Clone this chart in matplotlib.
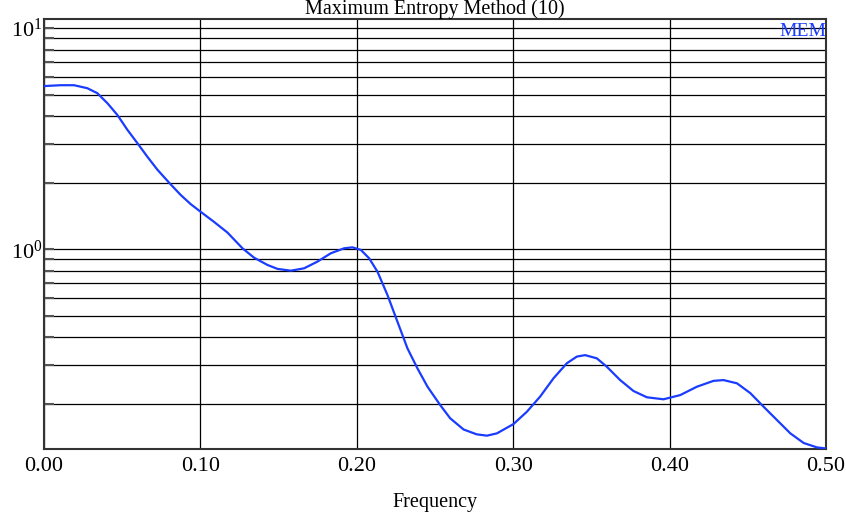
import numpy as np
import matplotlib
matplotlib.use("Agg")
import matplotlib.pyplot as plt
from matplotlib.ticker import LogLocator, FixedLocator, NullFormatter

# MEM spectrum (order 10), read along the frequency axis
freq = [0.000, 0.0021, 0.0107, 0.0192, 0.0277, 0.0341, 0.0405, 0.0469, 0.0533, 0.0597,
        0.0661, 0.0725, 0.080, 0.0874, 0.0938, 0.100, 0.1087, 0.1173, 0.1269, 0.1343,
        0.1429, 0.1493, 0.1578, 0.1663, 0.1748, 0.1834, 0.1919, 0.1972, 0.2026, 0.2079,
        0.2132, 0.2196, 0.226, 0.2324, 0.2388, 0.2452, 0.2533, 0.2597, 0.2683, 0.2767,
        0.2832, 0.2896, 0.3002, 0.3087, 0.3172, 0.3258, 0.3343, 0.3407, 0.346, 0.3535,
        0.3599, 0.3684, 0.3769, 0.3855, 0.3961, 0.4068, 0.4175, 0.4281, 0.4345, 0.4431,
        0.4516, 0.4601, 0.4686, 0.4772, 0.4857, 0.4942, 0.500]
power = [5.47, 5.48, 5.52, 5.52, 5.35, 5.08, 4.58, 4.05, 3.47, 3.02,
         2.62, 2.29, 2.00, 1.76, 1.60, 1.48, 1.33, 1.19, 1.01, 0.916,
         0.849, 0.815, 0.800, 0.820, 0.879, 0.959, 1.01, 1.02, 0.993, 0.91,
         0.792, 0.621, 0.470, 0.356, 0.289, 0.239, 0.1975, 0.172, 0.153, 0.1455,
         0.1435, 0.147, 0.162, 0.184, 0.2155, 0.261, 0.305, 0.327, 0.332, 0.321,
         0.294, 0.256, 0.2285, 0.214, 0.2096, 0.219, 0.239, 0.254, 0.256, 0.2475,
         0.2235, 0.194, 0.169, 0.147, 0.133, 0.127, 0.1256]

xticks = [0.0, 0.1, 0.2, 0.3, 0.4, 0.5]
yticks = [1, 10]
ytick_labels = [r"$\mathregular{10^{0}}$", r"$\mathregular{10^{1}}$"]
title = "Maximum Entropy Method (10)"
xlabel = "Frequency"
legend_label = "MEM"

line_color = "#1a3cff"

plt.rcParams["font.family"] = ["Liberation Serif", "DejaVu Serif"]
plt.rcParams["mathtext.fontset"] = "custom"
plt.rcParams["mathtext.rm"] = "Liberation Serif"

fig = plt.figure(figsize=(8.46, 5.16), dpi=100)
ax = fig.add_axes([44 / 846, 67 / 516, 782 / 846, 430 / 516])

ax.plot(freq, power, color=line_color, linewidth=1.6, zorder=3,
        solid_joinstyle="round", solid_capstyle="round")

ax.set_yscale("log")
ax.set_xlim(0, 0.5)
ax.set_ylim(0.1249, 11.0)

# grid: vertical at the frequency ticks, horizontal at every log subdivision
ax.xaxis.set_major_locator(FixedLocator(xticks))
ax.set_xticklabels([f"{t:.2f}" for t in xticks])
ax.yaxis.set_major_locator(FixedLocator(yticks))
ax.set_yticklabels(ytick_labels)
ax.yaxis.set_minor_locator(LogLocator(base=10, subs=np.arange(2, 10)))
ax.yaxis.set_minor_formatter(NullFormatter())
ax.grid(axis="x", which="major", color="black", linewidth=0.9)
ax.grid(axis="y", which="both", color="black", linewidth=0.9)

ax.tick_params(axis="x", length=0, pad=6, labelsize=16)
ax.tick_params(axis="y", which="both", direction="in", length=7, width=1.5,
               color="#555555", pad=1, labelsize=16)

for side in ["left", "bottom", "top", "right"]:
    ax.spines[side].set_color("#333333")
    ax.spines[side].set_linewidth(1.5)

ax.set_title(title, fontsize=14.5, pad=2)
ax.set_xlabel(xlabel, fontsize=14.5, va="center")
ax.xaxis.set_label_coords(0.5, -(503 - 449) / 430)

ax.text(1.0, 1 - 4 / 430, legend_label, transform=ax.transAxes, ha="right", va="top",
        color=line_color, fontsize=14)

plt.savefig("out.png", dpi=100)
plt.close()
